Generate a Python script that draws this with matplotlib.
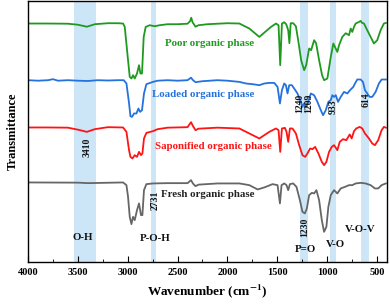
import numpy as np
import matplotlib.pyplot as plt
from matplotlib.ticker import MultipleLocator

plt.rcParams['font.family'] = ['Liberation Serif', 'DejaVu Serif']
plt.rcParams['font.weight'] = 'bold'
plt.rcParams['mathtext.fontset'] = 'stix'

# FTIR spectra, wavenumber (cm-1) and stacked transmittance (a.u.)
wn_poor = [4000, 3800, 3600, 3500, 3410, 3330, 3200, 3100, 3047, 3030, 2997, 2980, 2963, 2947,
           2930, 2907, 2887, 2873, 2857, 2840, 2820, 2780, 2730, 2680, 2600, 2500, 2400, 2375,
           2363, 2350, 2320, 2290, 2200, 2000, 1880, 1780, 1680, 1563, 1513, 1487, 1470, 1453,
           1430, 1410, 1390, 1378, 1365, 1340, 1313, 1290, 1260, 1230, 1210, 1180, 1160, 1130,
           1110, 1080, 1050, 1030, 997, 963, 937, 915, 897, 880, 847, 813, 780, 763, 747, 730,
           713, 680, 663, 650, 630, 597, 563, 530, 497, 463, 430, 410]
t_poor = [241.7, 241.7, 241.5, 240.5, 238.5, 241, 242, 242, 241.7, 238.3, 205, 188.3, 186.7, 190,
          186.7, 191.7, 200, 191.7, 191.7, 228.3, 238.3, 240, 239, 240, 241, 241, 241.5, 244,
          247.5, 243, 238.5, 240, 241, 242, 241.7, 236.7, 228.3, 238.3, 241.7, 240, 200, 241.7,
          243, 241, 235, 222, 242, 242, 239, 225, 205, 195, 200, 216.7, 215, 225,
          222, 205, 190, 185, 186.7, 208.3, 221.7, 217, 213.3, 220, 228.3, 232, 230, 236.7, 233.3, 238.3,
          241.7, 243.3, 244.3, 242.5, 241.7, 235, 228.3, 221.7, 225, 235, 241.7, 242.3]

wn_loaded = [4000, 3900, 3800, 3750, 3700, 3600, 3500, 3400, 3300, 3200, 3100, 3040, 3013, 2987,
             2973, 2957, 2937, 2913, 2893, 2877, 2857, 2837, 2813, 2747, 2700, 2600, 2500, 2400,
             2365, 2345, 2320, 2250, 2100, 2000, 1880, 1813, 1747, 1680, 1630, 1580, 1530, 1497,
             1473, 1453, 1430, 1413, 1397, 1380, 1353, 1330, 1297, 1263, 1247, 1230, 1213, 1190,
             1163, 1130, 1097, 1063, 1040, 1013, 987, 963, 947, 930, 913, 890, 863, 830, 797, 770,
             753, 737, 720, 697, 663, 640, 620, 597, 573, 547, 513, 480, 453, 410]
t_loaded = [185, 184.5, 185, 186, 184.5, 185, 184.5, 184.2, 185, 184.7, 185, 185, 181.7, 162,
            149, 148.3, 151.7, 151.7, 156.7, 153.3, 155, 171.7, 181, 183.3, 184.5, 185, 184.5, 185,
            187.5, 185, 183, 184, 185, 184.5, 183.3, 181.7, 181, 180, 181.7, 182.3, 182.3, 178.3,
            161.7, 175, 181.7, 180, 171.7, 180, 180, 176.7, 171.7, 163.3, 158.3, 161.7, 157.7, 163.3,
            171.7, 170, 163.3, 155, 150, 155, 163.3, 165, 170, 168.3, 170, 163.3, 168.3, 173.3, 171.7, 175,
            176.7, 178.3, 181.7, 185.7, 185.7, 183.3, 175, 171.7, 168.3, 168.3, 173.3, 181.7, 185.7, 185.7]

wn_sapon = [4000, 3800, 3600, 3500, 3410, 3330, 3200, 3047, 3013, 2987, 2973, 2953, 2930, 2907,
            2887, 2867, 2853, 2837, 2813, 2747, 2700, 2600, 2400, 2365, 2345, 2320, 2290, 2100,
            1880, 1780, 1680, 1580, 1513, 1487, 1470, 1453, 1423, 1407, 1390, 1373, 1347, 1313,
            1280, 1247, 1220, 1197, 1170, 1147, 1120, 1087, 1053, 1030, 1007, 980, 953, 930, 897,
            873, 840, 807, 773, 753, 730, 707, 673, 647, 620, 580, 547, 520, 487, 453, 430, 410]
t_sapon = [137.7, 137.7, 137.5, 135.5, 133.3, 136, 138, 137.7, 133.3, 115, 108.3, 106.7, 110, 108.3,
           113.3, 110, 111.7, 126.7, 132.3, 134, 136, 137.5, 138, 143, 139, 135, 136.5, 137.5,
           136.7, 131.7, 126.7, 133.3, 136.7, 135, 113.3, 136.7, 137.3, 133.3, 123.3, 136.7, 136.7, 131.7,
           120, 110, 108.3, 111.7, 116.7, 116, 118.3, 111.7, 103.3, 100, 103.3, 113.3, 118.3, 120, 115,
           123.3, 126, 125, 130.7, 126.7, 134, 136.7, 138.3, 136.7, 131.7, 126.7, 121.7, 120, 125, 135, 138.3, 137.5]

wn_fresh = [4000, 3500, 3400, 3047, 3013, 2997, 2980, 2963, 2947, 2930, 2907, 2887, 2867, 2853,
            2837, 2813, 2747, 2600, 2400, 2365, 2345, 2320, 2290, 2100, 1880, 1780, 1697, 1630,
            1547, 1497, 1473, 1457, 1430, 1407, 1390, 1373, 1340, 1307, 1273, 1247, 1223, 1203,
            1180, 1153, 1130, 1107, 1080, 1053, 1030, 1007, 987, 963, 930, 897, 863, 820, 780,
            747, 713, 663, 613, 563, 520, 487, 453, 410]
t_fresh = [82.7, 82.5, 82, 82.7, 80, 68.3, 48.3, 41, 48.3, 45, 55, 61.7, 50, 50,
           75, 81, 81.7, 82, 82, 85, 81.5, 79, 80.5, 81.7, 81.7, 80, 75.7, 77.7,
           81, 80, 61.7, 80, 81.7, 80, 75, 81, 81.7, 78.3, 65, 53.3, 51.7, 56.7,
           70, 72.3, 71.7, 75, 65, 45, 33.3, 38.3, 58.3, 70, 75, 71.7, 76.7, 78.3, 80,
           80, 81.7, 82.3, 81.7, 80, 76.7, 76.7, 80, 81.7]

# highlighted bands (cm-1)
bands = [(3540, 3320), (2770, 2713), (1273, 1190), (967, 913), (663, 580)]

fig = plt.figure(figsize=(3.9, 3.08), dpi=100)
ax = fig.add_axes([0.072, 0.149, 0.92, 0.847])

for hi, lo in bands:
    ax.axvspan(lo, hi, color='#cce6f8', lw=0, zorder=0)

ax.plot(wn_poor, t_poor, color='#1f9a1f', lw=1.3)
ax.plot(wn_loaded, t_loaded, color='#2672dc', lw=1.3)
ax.plot(wn_sapon, t_sapon, color='#ff1414', lw=1.3)
ax.plot(wn_fresh, t_fresh, color='#666666', lw=1.3)

fs = 7.8
ax.text(2180, 222, 'Poor organic phase', color='#1f9a1f', fontsize=fs, ha='center', va='center')
ax.text(2245, 170.7, 'Loaded organic phase', color='#2672dc', fontsize=fs, ha='center', va='center')
ax.text(2140, 118.3, 'Saponified organic phase', color='#ff1414', fontsize=fs, ha='center', va='center')
ax.text(2200, 70.7, 'Fresh organic phase', color='#222222', fontsize=fs, ha='center', va='center')

for lab, x, y in [('O-H', 3447, 27.7), ('P-O-H', 2730, 27), ('P=O', 1213, 15.7),
                  ('V-O', 920, 20.7), ('V-O-V', 663, 35.7)]:
    ax.text(x, y, lab, fontsize=fs, ha='center', va='center', color='#111111')

for lab, x, y in [('3410', 3407, 118), ('2731', 2730, 65), ('1240', 1272, 162),
                  ('1209', 1183, 162), ('933', 937, 158), ('614', 613, 165), ('1230', 1220, 38)]:
    ax.text(x, y, lab, fontsize=7, ha='center', va='center', rotation=90, color='#111111')

ax.set_xlim(4000, 400)
ax.set_ylim(3, 264)
ax.set_yticks([])
ax.xaxis.set_major_locator(MultipleLocator(500))
ax.xaxis.set_minor_locator(MultipleLocator(250))
ax.tick_params(axis='x', which='both', direction='in', top=False, labelsize=7.5, pad=4)
ax.tick_params(axis='x', which='major', length=4)
ax.tick_params(axis='x', which='minor', length=2.5)
for s in ax.spines.values():
    s.set_linewidth(1.0)

ax.set_xlabel('Wavenumber (cm$^{\\mathbf{-1}}$)', fontsize=9.5, fontweight='bold', labelpad=4)
ax.set_ylabel('Transmittance', fontsize=9, fontweight='bold', labelpad=7)

fig.savefig('out.png', dpi=100)
